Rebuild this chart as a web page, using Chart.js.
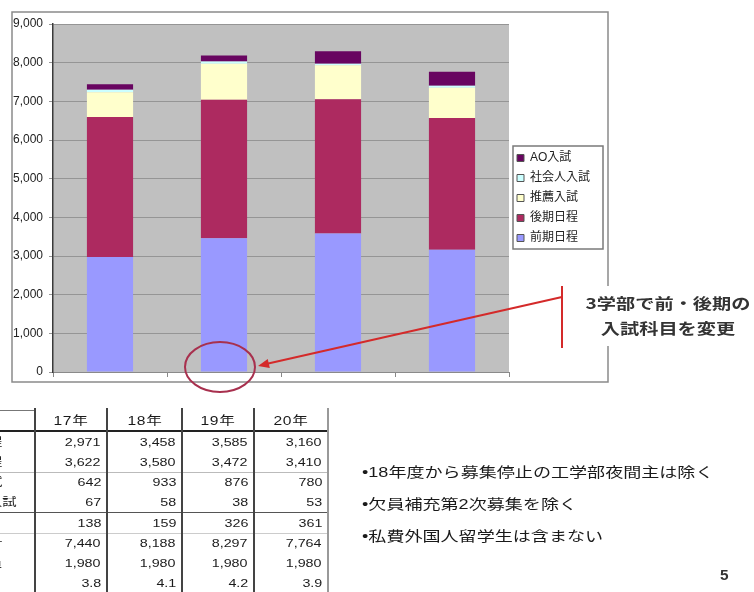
<!DOCTYPE html>
<html><head><meta charset="utf-8">
<script src="https://cdn.jsdelivr.net/npm/chart.js@4.4.1/dist/chart.umd.min.js"></script>
<style>
html,body{margin:0;padding:0;background:#fff;width:754px;height:592px;overflow:hidden;position:relative;font-family:'Liberation Sans','Noto Sans CJK JP',sans-serif;}
#c{position:absolute;left:0;top:0;}
.t{position:absolute;white-space:nowrap;color:#1a1a1a;line-height:1;}
.ln{position:absolute;}
</style></head><body>
<canvas id="c" width="754" height="592"></canvas>
<div id="ov"></div>
<script>
// ---- data ----
const years = ['17年','18年','19年','20年'];
const seriesNames = ['前期日程','後期日程','推薦入試','社会人入試','AO入試'];
const zenki = [2971,3458,3585,3160];
const kouki = [3622,3580,3472,3410];
const suisen = [642,933,876,780];
const shakaijin = [67,58,38,53];
const ao = [138,159,326,361];
const totals = [7440,8188,8297,7764];
const teiin = [1980,1980,1980,1980];
const bairitsu = ['3.8','4.1','4.2','3.9'];
const rowLabels = ['前期日程','後期日程','推薦入試','社会人入試','AO入試','志願者計','募集人員','倍率'];
const yTicks = [0,1000,2000,3000,4000,5000,6000,7000,8000,9000];
const notes = ['•18年度から募集停止の工学部夜間主は除く','•欠員補充第2次募集を除く','•私費外国人留学生は含まない'];
const calloutLines = ['3学部で前・後期の','入試科目を変更'];

const colors = ['#9999ff','#ad2a60','#ffffcc','#ccffff','#680560'];
const seriesData = [zenki,kouki,suisen,shakaijin,ao];
const FONT = "'Liberation Sans','Noto Sans CJK JP',sans-serif";

const decor = {
  id:'decor',
  beforeLayout(chart){
    const lg = chart.legend;
    if(lg && !lg._patched){
      const of = lg.fit.bind(lg);
      lg.fit = function(){ of(); this.width = 99; };
      lg._patched = true;
    }
  },
  beforeDraw(chart){
    const {ctx, chartArea:a} = chart;
    ctx.save();
    ctx.fillStyle='#c0c0c0';
    ctx.fillRect(a.left,a.top,a.right-a.left,a.bottom-a.top);
    ctx.restore();
  },
  afterDraw(chart){
    const ctx = chart.ctx;
    ctx.save();
    // chart border
    ctx.strokeStyle='#8a8a8a'; ctx.lineWidth=1.5;
    ctx.strokeRect(12,12,596,370);
    // legend border
    const lg = chart.legend;
    if(lg && lg.legendHitBoxes && lg.legendHitBoxes.length){
      const hb = lg.legendHitBoxes;
      const top = Math.min(...hb.map(h=>h.top)), bot = Math.max(...hb.map(h=>h.top+h.height));
      ctx.strokeStyle='#7a7a7a'; ctx.lineWidth=1.5;
      ctx.strokeRect(lg.left+4, top-6, 90, bot-top+11);
    }
    // ellipse
    ctx.strokeStyle='#a8304e'; ctx.lineWidth=2;
    ctx.beginPath(); ctx.ellipse(220,367,35,25,0,0,Math.PI*2); ctx.stroke();
    // white box behind callout
    ctx.fillStyle='#fff'; ctx.fillRect(578,286,176,60);
    // vertical red bar
    ctx.strokeStyle='#d42a2a'; ctx.lineWidth=2;
    ctx.beginPath(); ctx.moveTo(562,286); ctx.lineTo(562,348); ctx.stroke();
    // arrow
    const x0=562,y0=297,x1=258,y1=366;
    ctx.beginPath(); ctx.moveTo(x0,y0); ctx.lineTo(x1+8,y1-2); ctx.stroke();
    const ang=Math.atan2(y1-y0,x1-x0);
    ctx.fillStyle='#d42a2a';
    ctx.beginPath();
    ctx.moveTo(x1,y1);
    ctx.lineTo(x1-12*Math.cos(ang-0.4),y1-12*Math.sin(ang-0.4));
    ctx.lineTo(x1-12*Math.cos(ang+0.4),y1-12*Math.sin(ang+0.4));
    ctx.closePath(); ctx.fill();
    // callout text
    ctx.fillStyle='#333'; ctx.textAlign='center'; ctx.textBaseline='middle';
    ctx.font="bold 15px 'Noto Sans CJK JP',sans-serif";
    [[calloutLines[0],303],[calloutLines[1],328]].forEach(([s,y])=>{
      ctx.save(); ctx.translate(668,y); ctx.scale(1.28,1); ctx.fillText(s,0,0); ctx.restore();
    });
    ctx.restore();
  }
};

new Chart(document.getElementById('c'),{
  type:'bar',
  data:{
    labels: years,
    datasets: seriesNames.map((n,i)=>({label:n,data:seriesData[i],backgroundColor:colors[i],borderWidth:0,
      categoryPercentage:1.0,barPercentage:0.405}))
  },
  options:{
    responsive:false,animation:false,devicePixelRatio:1,
    layout:{padding:{left:12,top:24,right:146,bottom:210}},
    plugins:{
      tooltip:{enabled:false},
      title:{display:false},
      legend:{
        position:'right',fullSize:false,reverse:true,align:'center',
        labels:{
          boxWidth:7,boxHeight:7,padding:8,color:'#222',
          font:{size:12,family:FONT},
          generateLabels:(ch)=>Chart.defaults.plugins.legend.labels.generateLabels(ch).map(l=>Object.assign(l,{strokeStyle:'#555',lineWidth:1}))
        }
      }
    },
    scales:{
      x:{stacked:true,
        grid:{display:true,drawOnChartArea:false,drawTicks:true,tickLength:5,color:'#888',offset:true},
        border:{display:true,color:'#8a8a8a',width:1},
        ticks:{display:false},
        afterFit(s){s.height=10;}
      },
      y:{stacked:true,min:0,max:9000,
        afterBuildTicks(s){s.ticks=yTicks.map(v=>({value:v}));},
        ticks:{stepSize:1000,padding:6,color:'#222',font:{size:12,family:FONT},
          callback:v=>v.toLocaleString('en-US')},
        grid:{color:'#959595',lineWidth:1,tickLength:4,drawTicks:true},
        border:{display:true,color:'#3a3a3a',width:1.5},
        afterFit(s){s.width=41;}
      }
    }
  },
  plugins:[decor]
});

// ---- table and notes (HTML) ----
const ov = document.getElementById('ov');
function txt(s,x,y,opt){
  const d=document.createElement('div'); d.className='t'; d.textContent=s;
  const size=opt.size||11, sx=opt.sx||1.3;
  d.style.fontSize=size+'px';
  if(opt.bold) d.style.fontWeight='bold';
  if(opt.color) d.style.color=opt.color;
  d.style.top=(y-size/2)+'px';
  if(opt.align==='right'){ d.style.right=(754-x)+'px'; d.style.transformOrigin='right center'; d.style.transform='scaleX('+sx+')'; }
  else if(opt.align==='center'){ d.style.left=x+'px'; d.style.transform='translateX(-50%) scaleX('+sx+')'; d.style.transformOrigin='center center'; }
  else { d.style.left=x+'px'; d.style.transformOrigin='left center'; d.style.transform='scaleX('+sx+')'; }
  ov.appendChild(d); return d;
}
function line(x,y,w,h,c){
  const d=document.createElement('div'); d.className='ln';
  d.style.left=x+'px'; d.style.top=y+'px'; d.style.width=w+'px'; d.style.height=h+'px'; d.style.background=c;
  ov.appendChild(d);
}
const colR=[35,107,182,254,328];
const rowY=[442,462,482,502,523,543,563,583];
const headY=421;
line(0,410,35,1,'#777');
line(0,430,328,2,'#222');
line(0,472,328,1,'#bbb');
line(0,512,328,1,'#555');
line(0,533,328,1,'#ccc');
colR.slice(0,4).forEach(x=>line(x-1,408,2,184,'#444'));
line(327,408,1.5,184,'#999');
years.forEach((y,i)=>{
  const c=(colR[i]+colR[i+1])/2;
  const d=txt(y,c,headY,{size:12,sx:1.3,align:'center'});
  d.style.letterSpacing='0.5px';
});
const rows=[zenki,kouki,suisen,shakaijin,ao,totals,teiin,bairitsu];
rows.forEach((r,ri)=>{
  txt(rowLabels[ri],-55,rowY[ri],{size:11,sx:1.3});
  r.forEach((v,ci)=>{
    const s=typeof v==='number'?v.toLocaleString('en-US'):v;
    txt(s,colR[ci+1]-6,rowY[ri],{size:11,sx:1.3,align:'right'});
  });
});
notes.forEach((s,i)=>{
  txt(s,362,472+i*32,{size:14,sx:1.29,color:'#1a1a1a'});
});
txt('5',720,575,{size:14,sx:1.1,bold:true,color:'#333'});
</script>
</body></html>
